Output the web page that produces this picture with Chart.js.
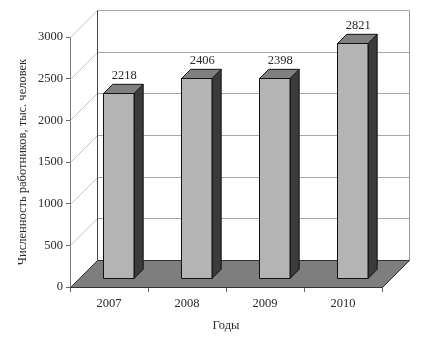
<!DOCTYPE html>
<html>
<head>
<meta charset="utf-8">
<script src="https://cdn.jsdelivr.net/npm/chart.js@4/dist/chart.umd.min.js"></script>
<style>
html,body{margin:0;padding:0;background:#fff;}
#wrap{width:433px;height:337px;}
</style>
</head>
<body>
<div id="wrap"><canvas id="c" width="433" height="337"></canvas></div>
<script>
const years = ['2007', '2008', '2009', '2010'];
const workers = [2218, 2406, 2398, 2821];
const yMin = 0;
const yMax = 3000;
const yStep = 500;
const yTitle = 'Численность работников, тыс. человек';
const xTitle = 'Годы';

const DX = 27, DY = -27;   // depth of the 3D box
const F0 = 0.33, F1 = 0.67; // bar depth position (fraction)
const FONT = "'Liberation Serif', 'DejaVu Serif', serif";
const TXT = '#2a2a2a';

const box3d = {
  id: 'box3d',
  afterDatasetsDraw(chart) {
    const ctx = chart.ctx;
    const {left, right, top, bottom} = chart.chartArea;
    const y = chart.scales.y;
    ctx.save();
    ctx.lineWidth = 1;
    y.ticks.forEach(t => {
      const py = Math.round(y.getPixelForValue(t.value)) + 0.5;
      ctx.strokeStyle = '#c4c4c4';
      ctx.beginPath();
      ctx.moveTo(left + 0.5, py);
      ctx.lineTo(left + DX + 0.5, py + DY);
      ctx.stroke();
      ctx.strokeStyle = '#a8a8a8';
      ctx.beginPath();
      ctx.moveTo(left + DX + 0.5, py + DY);
      ctx.lineTo(right + DX + 0.5, py + DY);
      ctx.stroke();
    });
    const yT = Math.round(y.getPixelForValue(yMax)) + 0.5;
    const yB = Math.round(y.getPixelForValue(yMin)) + 0.5;
    ctx.strokeStyle = '#444';
    ctx.beginPath();
    ctx.moveTo(left + DX + 0.5, yT + DY);
    ctx.lineTo(left + DX + 0.5, yB + DY);
    ctx.stroke();
    ctx.strokeStyle = '#999';
    ctx.beginPath();
    ctx.moveTo(right + DX + 0.5, yT + DY);
    ctx.lineTo(right + DX + 0.5, yB + DY);
    ctx.stroke();
    // floor
    ctx.fillStyle = '#7e7e7e';
    ctx.strokeStyle = '#333';
    ctx.beginPath();
    ctx.moveTo(left + 0.5, yB);
    ctx.lineTo(right + 0.5, yB);
    ctx.lineTo(right + DX + 0.5, yB + DY);
    ctx.lineTo(left + DX + 0.5, yB + DY);
    ctx.closePath();
    ctx.fill();
    ctx.stroke();
    // bars
    const meta = chart.getDatasetMeta(0);
    const d = (F1 - F0) * DX;
    const dy = (F1 - F0) * DY;
    meta.data.forEach((el, i) => {
      const w = el.width;
      const x0 = Math.round(el.x - w / 2 + F0 * DX) + 0.5;
      const x1 = Math.round(x0 + w);
      const yt = Math.round(el.y + F0 * DY) + 0.5;
      const yb = Math.round(el.base + F0 * DY) + 0.5;
      ctx.strokeStyle = '#111';
      ctx.fillStyle = '#3b3b3b';
      ctx.beginPath();
      ctx.moveTo(x1, yt); ctx.lineTo(x1 + d, yt + dy);
      ctx.lineTo(x1 + d, yb + dy); ctx.lineTo(x1, yb);
      ctx.closePath(); ctx.fill(); ctx.stroke();
      ctx.fillStyle = '#808080';
      ctx.beginPath();
      ctx.moveTo(x0, yt); ctx.lineTo(x1, yt);
      ctx.lineTo(x1 + d, yt + dy); ctx.lineTo(x0 + d, yt + dy);
      ctx.closePath(); ctx.fill(); ctx.stroke();
      ctx.fillStyle = '#b4b4b4';
      ctx.beginPath();
      ctx.rect(x0, yt, x1 - x0, yb - yt);
      ctx.fill(); ctx.stroke();
      ctx.fillStyle = TXT;
      ctx.font = '12.5px ' + FONT;
      ctx.textAlign = 'center';
      ctx.textBaseline = 'middle';
      ctx.fillText(String(workers[i]), (x0 + x1) / 2 + d / 2 + 1, yt + dy - 9);
    });
    ctx.restore();
  }
};

new Chart(document.getElementById('c'), {
  type: 'bar',
  data: {
    labels: years,
    datasets: [{
      data: workers,
      backgroundColor: 'rgba(0,0,0,0)',
      borderWidth: 0,
      categoryPercentage: 1,
      barPercentage: 0.385
    }]
  },
  options: {
    responsive: false,
    animation: false,
    events: [],
    layout: { padding: { top: 37, right: 51, left: 0, bottom: 0 } },
    plugins: { legend: { display: false }, tooltip: { enabled: false } },
    scales: {
      x: {
        offset: true,
        grid: { offset: true, drawOnChartArea: false, drawTicks: true, tickLength: 5, color: '#666' },
        border: { display: false },
        ticks: { font: { family: FONT, size: 12.5 }, color: TXT, padding: 4 },
        title: { display: true, text: xTitle, font: { family: FONT, size: 12.5 }, color: TXT, padding: { top: 4, bottom: 4 } },
        afterFit(s) { s.height = 50; }
      },
      y: {
        min: yMin, max: yMax,
        ticks: { stepSize: yStep, font: { family: FONT, size: 12.5 }, color: TXT, padding: 3,
                 callback: v => String(v) },
        grid: { drawOnChartArea: false, drawTicks: true, tickLength: 4, color: '#666' },
        border: { display: true, color: '#777' },
        title: { display: true, text: yTitle, font: { family: FONT, size: 12.5 }, color: TXT, padding: { top: 15, bottom: 15 } },
        afterFit(s) { s.width = 70; }
      }
    }
  },
  plugins: [box3d]
});
</script>
</body>
</html>
